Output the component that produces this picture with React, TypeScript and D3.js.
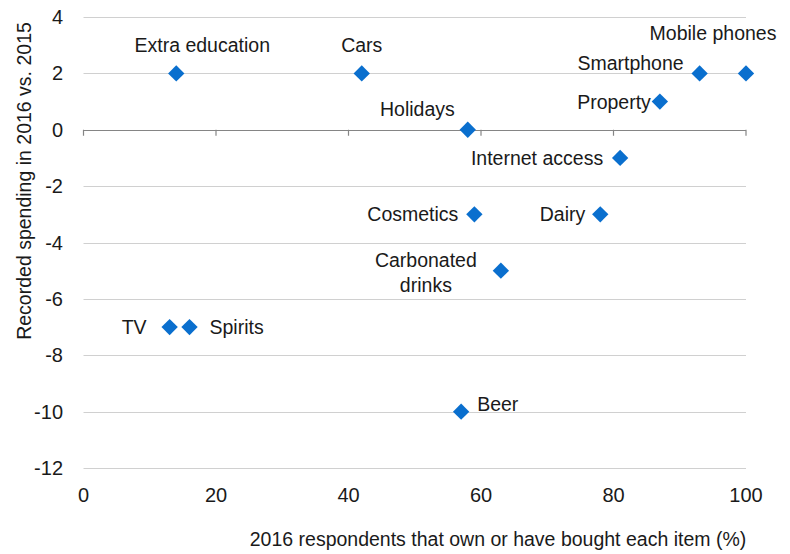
import React from "react";
import * as d3 from "d3";

const items = ["Extra education", "Cars", "Mobile phones", "Smartphone", "Property", "Holidays", "Internet access", "Cosmetics", "Dairy", "Carbonated drinks", "TV", "Spirits", "Beer"];
const ownership = [14, 42, 100, 93, 87, 58, 81, 59, 78, 63, 13, 16, 57];
const spending = [2, 2, 2, 2, 1, 0, -1, -3, -3, -5, -7, -7, -10];
const xTicks = [0, 20, 40, 60, 80, 100];
const yTicks = [4, 2, 0, -2, -4, -6, -8, -10, -12];
const xTitle = "2016 respondents that own or have bought each item (%)";
const yTitle = "Recorded spending in 2016 vs. 2015";

// label placement (pixel offsets from the marker)
const labelPlace: Record<string, { dx: number; dy: number; anchor: string; lines?: string[] }> = {
  "Extra education": { dx: 26, dy: -21, anchor: "middle" },
  "Cars": { dx: 0, dy: -21, anchor: "middle" },
  "Mobile phones": { dx: -33, dy: -33, anchor: "middle" },
  "Smartphone": { dx: -16, dy: -3, anchor: "end" },
  "Property": { dx: -9, dy: 7, anchor: "end" },
  "Holidays": { dx: -13, dy: -14, anchor: "end" },
  "Internet access": { dx: -17, dy: 7, anchor: "end" },
  "Cosmetics": { dx: -16, dy: 7, anchor: "end" },
  "Dairy": { dx: -15, dy: 7, anchor: "end" },
  "Carbonated drinks": { dx: -75, dy: -4, anchor: "middle", lines: ["Carbonated", "drinks"] },
  "TV": { dx: -23, dy: 7, anchor: "end" },
  "Spirits": { dx: 20, dy: 7, anchor: "start" },
  "Beer": { dx: 16, dy: -1, anchor: "start" },
};

const W = 790;
const H = 554;
const FONT = "'Liberation Sans', Arial, Helvetica, sans-serif";
const TEXT = "#1a1a1a";
const BLUE = "#0a6fce";
const FS = 19.5;

export default function App() {
  const x = d3.scaleLinear().domain([0, 100]).range([83.5, 746]);
  const y = d3.scaleLinear().domain([4, -12]).range([17, 468]);
  const diamond = d3.symbol().type(d3.symbolDiamond2).size(170)();

  return (
    <svg width={W} height={H} style={{ position: "absolute", left: 0, top: 0, background: "#fff" }} fontFamily={FONT}>
      {yTicks.filter((t) => t !== 0).map((t) => (
        <line key={"g" + t} x1={x(0)} x2={x(100)} y1={Math.round(y(t)) + 0.5} y2={Math.round(y(t)) + 0.5} stroke="#d0d0d0" strokeWidth={1} />
      ))}
      <line x1={x(0)} x2={x(100)} y1={Math.round(y(0)) + 0.5} y2={Math.round(y(0)) + 0.5} stroke="#858585" strokeWidth={1.2} />
      {xTicks.map((t) => (
        <line key={"t" + t} x1={x(t)} x2={x(t)} y1={y(0)} y2={y(0) + 6} stroke="#858585" strokeWidth={1.2} />
      ))}
      {yTicks.map((t) => (
        <text key={"yl" + t} x={63} y={y(t) + 7} textAnchor="end" fontSize={20} fill={TEXT}>{t}</text>
      ))}
      {xTicks.map((t) => (
        <text key={"xl" + t} x={x(t)} y={502} textAnchor="middle" fontSize={20} fill={TEXT}>{t}</text>
      ))}
      <text x={498} y={546} textAnchor="middle" fontSize={FS} fill={TEXT}>{xTitle}</text>
      <text transform={`translate(31,181) rotate(-90)`} textAnchor="middle" fontSize={FS} fill={TEXT}>{yTitle}</text>
      {items.map((name, i) => {
        const px = x(ownership[i]);
        const py = y(spending[i]);
        const p = labelPlace[name];
        return (
          <g key={name}>
            <path d={diamond} transform={`translate(${px},${py})`} fill={BLUE} />
            {p.lines ? (
              p.lines.map((ln, j) => (
                <text key={ln} x={px + p.dx} y={py + p.dy + j * 25} textAnchor={p.anchor} fontSize={FS} fill={TEXT}>{ln}</text>
              ))
            ) : (
              <text x={px + p.dx} y={py + p.dy} textAnchor={p.anchor} fontSize={FS} fill={TEXT}>{name}</text>
            )}
          </g>
        );
      })}
    </svg>
  );
}
